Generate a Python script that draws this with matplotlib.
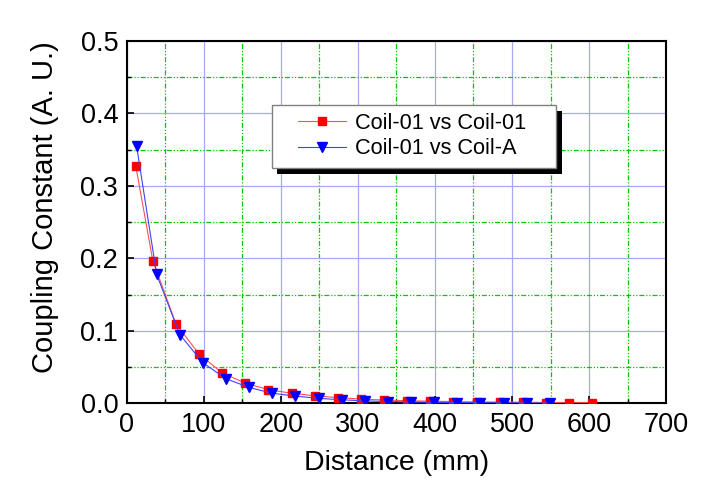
import matplotlib
matplotlib.use("Agg")
import matplotlib.pyplot as plt
from matplotlib.ticker import MultipleLocator
from matplotlib.patches import Rectangle

plt.rcParams['font.family'] = ['Liberation Sans', 'DejaVu Sans']

# Coil-01 vs Coil-01 (red squares)
dist_red = [12, 34, 64, 94, 124, 154, 184, 214, 244, 274, 304, 334, 364, 394,
            424, 454, 484, 514, 544, 574, 604]
coup_red = [0.327, 0.197, 0.110, 0.068, 0.042, 0.028, 0.019, 0.014, 0.0105,
            0.008, 0.006, 0.0046, 0.0037, 0.003, 0.0025, 0.002, 0.0018,
            0.0015, 0.0012, 0.001, 0.001]

# Coil-01 vs Coil-A (blue triangles)
dist_blue = [13, 39, 69, 99, 129, 159, 189, 219, 249, 279, 309, 339, 369, 399,
             429, 459, 489, 519, 549]
coup_blue = [0.355, 0.178, 0.095, 0.056, 0.034, 0.022, 0.014, 0.010, 0.007,
             0.005, 0.0035, 0.0025, 0.002, 0.0015, 0.0012, 0.001, 0.0008,
             0.0006, 0.0005]

x_ticks = [0, 100, 200, 300, 400, 500, 600, 700]
y_ticks = [0.0, 0.1, 0.2, 0.3, 0.4, 0.5]

fig = plt.figure(figsize=(7.11, 5.03), dpi=100)
ax = fig.add_axes([0.178, 0.198, 0.759, 0.721])

ax.plot(dist_red, coup_red, '-', color='#ff5050', lw=0.8, marker='s',
        markersize=6.3, markerfacecolor='#ff0000', markeredgecolor='#ff0000',
        label='Coil-01 vs Coil-01', zorder=3)
ax.plot(dist_blue, coup_blue, '-', color='#4040ff', lw=0.8, marker='v',
        markersize=7.5, markerfacecolor='#0000ff', markeredgecolor='#0000ff',
        label='Coil-01 vs Coil-A', zorder=3)

ax.set_xlim(0, 700)
ax.set_ylim(0, 0.5)
ax.set_xticks(x_ticks)
ax.set_yticks(y_ticks)
ax.set_yticklabels([f"{v:.1f}" for v in y_ticks])
ax.xaxis.set_minor_locator(MultipleLocator(50))
ax.yaxis.set_minor_locator(MultipleLocator(0.05))

ax.grid(which='major', color='#a8a8f0', lw=0.9, ls='-', zorder=0)
ax.grid(which='minor', color='#00c800', lw=0.9, ls=(0, (4, 1.5, 1, 1.5, 1, 1.5)), zorder=0)
ax.set_axisbelow(True)

ax.tick_params(which='major', direction='in', length=5, width=1.2,
               labelsize=19.5, pad=6, top=False, right=False)
ax.tick_params(which='minor', direction='in', length=3, width=1.0,
               top=False, right=False)
for s in ax.spines.values():
    s.set_linewidth(1.5)

ax.set_xlabel('Distance (mm)', fontsize=20.5, labelpad=9)
ax.set_ylabel('Coupling Constant (A. U.)', fontsize=21)
ax.yaxis.set_label_coords(-0.125, 0.541)

# legend frame + shadow (axes coordinates)
fx0, fy0, fw, fh = 0.269, 0.650, 0.527, 0.173
sh = Rectangle((fx0 + 0.010, fy0 - 0.017), fw, fh, transform=ax.transAxes,
               facecolor='black', edgecolor='none', zorder=5, clip_on=False)
fr = Rectangle((fx0, fy0), fw, fh, transform=ax.transAxes,
               facecolor='white', edgecolor='#808080', lw=1.0, zorder=5.2,
               clip_on=False)
ax.add_patch(sh)
ax.add_patch(fr)

leg = ax.legend(loc='center left', bbox_to_anchor=(0.318, 0.737), fontsize=15.7,
                frameon=False, handlelength=2.2, borderpad=0,
                labelspacing=0.2, handletextpad=0.4, borderaxespad=0)
leg.set_zorder(6)

fig.savefig('out.png', dpi=100)
